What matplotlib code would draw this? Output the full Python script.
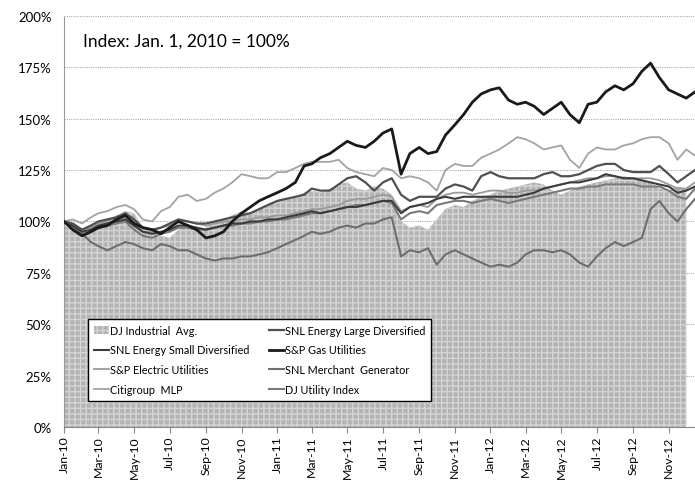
import datetime as dt
import numpy as np
import matplotlib
matplotlib.use("Agg")
import matplotlib.pyplot as plt
import matplotlib.dates as mdates
from matplotlib.ticker import FuncFormatter
from matplotlib.patches import Patch
from matplotlib.lines import Line2D

plt.rcParams['font.family'] = ['Lato', 'DejaVu Sans']

# semi-monthly sample dates (1st and 16th), Jan 2010 - Dec 2012
dates = [dt.date(y, m, d) for y in (2010, 2011, 2012) for m in range(1, 13) for d in (1, 16)]

# index values, % of Jan. 1, 2010
djia = [98, 96, 92, 95, 98, 101, 103, 105, 104, 97, 96, 93, 92, 96, 99, 96, 97, 100, 101, 103,
        105, 104, 106, 108, 110, 111, 112, 114, 115, 114, 116, 118, 119, 116, 115, 117, 116, 113,
        100, 97, 98, 96, 101, 106, 108, 107, 110, 112, 113, 115, 116, 117, 118, 119, 118, 115,
        113, 115, 117, 118, 119, 120, 121, 122, 121, 120, 119, 116, 115, 117, 116, np.nan]
snl_large = [100, 99, 96, 98, 100, 101, 102, 104, 101, 97, 96, 97, 99, 101, 100, 99, 99, 100,
             101, 102, 103, 104, 106, 108, 110, 111, 112, 113, 116, 115, 115, 118, 121, 122, 119,
             115, 119, 121, 113, 110, 112, 112, 112, 116, 118, 117, 115, 122, 124, 122, 121, 121,
             121, 121, 123, 124, 122, 122, 123, 125, 127, 128, 128, 125, 124, 124, 124, 127, 123,
             119, 122, 125]
snl_small = [100, 98, 95, 96, 98, 99, 100, 101, 98, 95, 94, 95, 96, 98, 98, 97, 96, 97, 98, 99,
             99, 100, 100, 101, 101, 102, 103, 104, 105, 104, 105, 106, 107, 107, 108, 109, 110,
             110, 104, 107, 108, 109, 111, 112, 111, 112, 112, 112, 112, 112, 112, 112, 113, 114,
             116, 117, 118, 119, 119, 120, 121, 123, 122, 121, 121, 120, 119, 118, 117, 114, 115,
             117]
sp_gas = [100, 96, 93, 95, 97, 98, 101, 103, 99, 97, 96, 94, 97, 100, 98, 96, 92, 93, 95, 100,
          104, 107, 110, 112, 114, 116, 119, 127, 128, 131, 133, 136, 139, 137, 136, 139, 143, 145,
          123, 133, 136, 133, 134, 142, 147, 152, 158, 162, 164, 165, 159, 157, 158, 156, 152, 155,
          158, 152, 148, 157, 158, 163, 166, 164, 167, 173, 177, 170, 164, 162, 160, 163]
sp_electric = [100, 99, 96, 97, 99, 100, 101, 102, 98, 95, 95, 97, 98, 100, 100, 99, 98, 99, 100,
               100, 101, 101, 102, 102, 103, 103, 104, 105, 106, 106, 107, 108, 110, 111, 111, 112,
               113, 112, 105, 107, 108, 107, 111, 113, 114, 114, 113, 114, 115, 115, 114, 114, 115,
               115, 116, 117, 118, 119, 120, 121, 121, 122, 122, 121, 121, 121, 121, 120, 118, 116,
               116, 119]
snl_merchant = [100, 98, 94, 90, 88, 86, 88, 90, 89, 87, 86, 89, 88, 86, 86, 84, 82, 81, 82, 82,
                83, 83, 84, 85, 87, 89, 91, 93, 95, 94, 95, 97, 98, 97, 99, 99, 101, 102, 83, 86,
                85, 87, 79, 84, 86, 84, 82, 80, 78, 79, 78, 80, 84, 86, 86, 85, 86, 84, 80, 78, 83,
                87, 90, 88, 90, 92, 106, 110, 104, 100, 106, 111]
citi_mlp = [100, 101, 99, 102, 104, 105, 107, 108, 106, 101, 100, 105, 107, 112, 113, 110, 111,
            114, 116, 119, 123, 122, 121, 121, 124, 124, 126, 128, 129, 129, 129, 130, 126, 124,
            123, 122, 126, 125, 121, 122, 121, 119, 115, 125, 128, 127, 127, 131, 133, 135, 138,
            141, 140, 138, 135, 136, 137, 130, 126, 133, 136, 135, 135, 137, 138, 140, 141, 141,
            138, 130, 135, 132]
dj_utility = [100, 97, 94, 95, 97, 98, 99, 100, 96, 93, 92, 94, 95, 97, 97, 96, 96, 97, 98, 98,
              99, 99, 100, 100, 101, 101, 102, 103, 104, 104, 105, 106, 107, 108, 108, 109, 110,
              109, 101, 104, 105, 104, 108, 109, 110, 110, 109, 110, 111, 110, 109, 110, 111, 112,
              113, 114, 115, 116, 116, 117, 117, 118, 118, 118, 118, 117, 117, 117, 115, 112, 111,
              116]

fig = plt.figure(figsize=(6.95, 4.81), dpi=100)
ax = fig.add_axes([0.092, 0.110, 0.908, 0.855])

# DJIA as shaded area
ax.fill_between(dates, djia, 0, facecolor='#b3b3b3', edgecolor='#d4d4d4',
                hatch='+++', linewidth=0, zorder=1)

# index lines (drawn lightest first)
ax.plot(dates, citi_mlp, color='#a3a3a3', lw=1.3, zorder=3)
ax.plot(dates, sp_electric, color='#9a9a9a', lw=1.3, zorder=3)
ax.plot(dates, dj_utility, color='#7a7a7a', lw=1.5, zorder=3)
ax.plot(dates, snl_merchant, color='#6e6e6e', lw=1.5, zorder=3)
ax.plot(dates, snl_small, color='#3c3c3c', lw=1.5, zorder=4)
ax.plot(dates, snl_large, color='#505050', lw=1.6, zorder=4)
ax.plot(dates, sp_gas, color='#1a1a1a', lw=2.0, zorder=5)

ax.set_ylim(0, 200)
ax.set_yticks(np.arange(0, 201, 25))
ax.yaxis.set_major_formatter(FuncFormatter(lambda v, p: '%d%%' % v))
ax.set_xlim(dt.date(2010, 1, 1), dt.date(2012, 12, 16))
ax.xaxis.set_major_locator(mdates.MonthLocator(bymonth=range(1, 13, 2)))
ax.xaxis.set_major_formatter(mdates.DateFormatter('%b-%y'))
plt.setp(ax.get_xticklabels(), rotation=90)
ax.tick_params(axis='x', direction='out', length=4, color='#888888', labelsize=8.8, pad=2)
ax.tick_params(axis='y', length=0, labelsize=9.5, pad=9)

ax.grid(axis='y', color='#aaaaaa', linestyle=(0, (1, 1)), linewidth=0.8, zorder=0)
ax.set_axisbelow(True)
for s in ('top', 'right'):
    ax.spines[s].set_visible(False)
ax.spines['left'].set_color('#999999')
ax.spines['left'].set_linestyle((0, (1, 1)))
ax.spines['bottom'].set_color('#888888')

ax.text(0.03, 0.94, 'Index: Jan. 1, 2010 = 100%', transform=ax.transAxes,
        fontsize=12.5, va='center', ha='left')

# legend, filled row by row like the original
labels = ['DJ Industrial  Avg.', 'SNL Energy Small Diversified', 'S&P Electric Utilities',
          'Citigroup  MLP', 'SNL Energy Large Diversified', 'S&P Gas Utilities',
          'SNL Merchant  Generator', 'DJ Utility Index']
handles = [Patch(facecolor='#b3b3b3', edgecolor='#d4d4d4', hatch='+++', linewidth=0),
           Line2D([], [], color='#3c3c3c', lw=1.5),
           Line2D([], [], color='#9a9a9a', lw=1.3),
           Line2D([], [], color='#a3a3a3', lw=1.3),
           Line2D([], [], color='#505050', lw=1.6),
           Line2D([], [], color='#1a1a1a', lw=2.0),
           Line2D([], [], color='#6e6e6e', lw=1.5),
           Line2D([], [], color='#7a7a7a', lw=1.5)]
leg = ax.legend(handles, labels, ncol=2, loc='lower left', mode='expand',
                bbox_to_anchor=(0.030, 0.051, 0.561, 0.204), fontsize=7.8,
                frameon=True, fancybox=False, framealpha=1, edgecolor='black',
                handlelength=1.4, handletextpad=0.1, labelspacing=0.8, borderpad=0.55,
                columnspacing=0.5)
leg.get_frame().set_linewidth(1.0)
leg.set_zorder(10)

fig.savefig('out.png', dpi=100)
